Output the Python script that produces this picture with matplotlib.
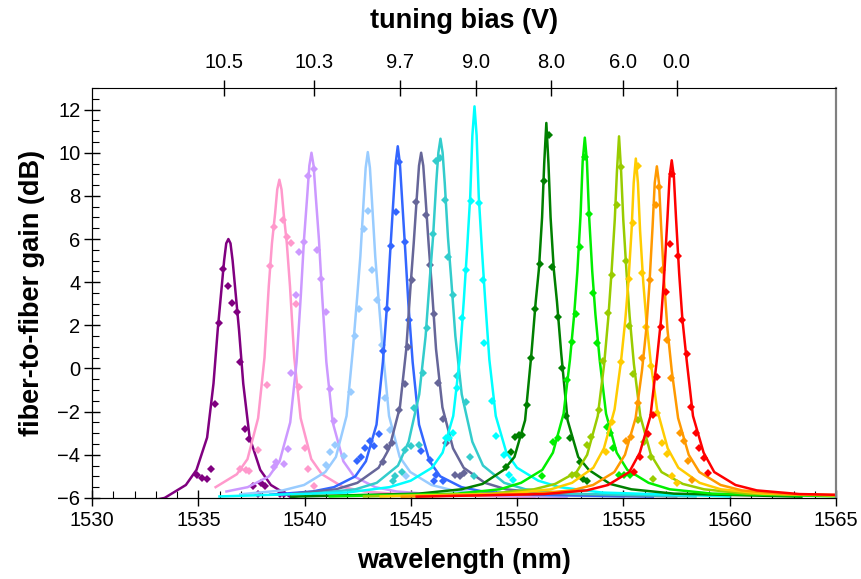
import numpy as np
import matplotlib.pyplot as plt
from matplotlib.ticker import MultipleLocator

plt.rcParams['font.family'] = ['Liberation Sans', 'DejaVu Sans']

COLORS = ["#800080", "#FF99CC", "#CC99FF", "#99CCFF", "#3366FF", "#666699", "#33CCCC",
          "#00FFFF", "#008000", "#00EE00", "#99CC00", "#FFCC00", "#FF9900", "#FF0000"]

# peak wavelength of each fitted curve (nm)
CENTERS = [1536.41, 1538.81, 1540.32, 1542.97, 1544.38, 1545.48, 1546.39,
           1547.99, 1551.37, 1553.18, 1554.79, 1555.58, 1556.57, 1557.27]

# fitted curves, read at these distances from the peak (both sides look alike)
OFFSETS = [0, 0.1, 0.2, 0.35, 0.5, 0.7, 1.0, 1.5, 2.0, 3.0, 4.0, 6.0, 12.0]
FIT_PURPLE = [6.0, 5.8, 5.0, 3.4, 1.8, -0.7, -3.2, -4.7, -5.4, -6.0, -6.2, -6.4, -6.5]
FIT_PINK = [8.75, 8.3, 7.2, 5.8, 3.8, 0.5, -2.3, -4.2, -4.9, -5.5, -5.7, -5.85, -5.95]
FIT_LAVENDER = [10.0, 9.4, 8.0, 6.0, 3.4, 0.3, -2.5, -4.3, -5.0, -5.5, -5.7, -5.85, -5.95]
FIT_LIGHTBLUE = [10.03, 9.3, 7.7, 5.2, 3.3, 0.9, -2.2, -4.1, -4.8, -5.4, -5.65, -5.83, -5.94]
FIT_BLUE = [10.3, 9.5, 7.9, 5.5, 3.0, 0.3, -2.6, -4.3, -5.0, -5.5, -5.7, -5.85, -5.94]
FIT_SLATE = [10.0, 9.4, 8.0, 5.8, 3.8, 0.9, -1.8, -3.7, -4.6, -5.3, -5.6, -5.8, -5.93]
FIT_TEAL = [10.65, 10.0, 8.6, 6.1, 4.2, 1.5, -1.2, -3.4, -4.5, -5.3, -5.6, -5.8, -5.93]
FIT_CYAN = [12.15, 10.8, 8.0, 5.5, 3.2, 0.4, -2.2, -3.9, -4.6, -5.2, -5.5, -5.75, -5.93]
FIT_DKGREEN = [11.38, 9.5, 7.0, 4.6, 3.1, 0.7, -2.4, -4.1, -4.7, -5.35, -5.6, -5.8, -5.94]
FIT_GREEN = [10.7, 9.6, 7.1, 4.5, 2.5, 0.4, -2.1, -3.9, -4.7, -5.3, -5.6, -5.8, -5.93]
FIT_YLGREEN = [10.76, 9.1, 6.9, 4.5, 2.4, 0.2, -2.2, -4.0, -4.8, -5.35, -5.6, -5.8, -5.93]
FIT_GOLD = [9.73, 8.6, 6.4, 4.0, 2.2, 0.3, -1.9, -3.7, -4.6, -5.3, -5.6, -5.8, -5.93]
FIT_ORANGE = [9.37, 8.6, 6.6, 3.9, 1.8, -0.1, -2.3, -4.0, -4.8, -5.4, -5.65, -5.82, -5.94]
FIT_RED = [9.65, 8.9, 7.0, 4.4, 2.3, 0.4, -2.2, -3.9, -4.8, -5.4, -5.65, -5.82, -5.94]
FITS = [FIT_PURPLE, FIT_PINK, FIT_LAVENDER, FIT_LIGHTBLUE, FIT_BLUE, FIT_SLATE, FIT_TEAL,
        FIT_CYAN, FIT_DKGREEN, FIT_GREEN, FIT_YLGREEN, FIT_GOLD, FIT_ORANGE, FIT_RED]
FIT_FROM = 1535.5   # fitted tails along the floor start about here

# measured points (wavelength nm, gain dB)
PTS_PURPLE = [(1536.14, 4.63), (1536.39, 3.83), (1536.59, 3.04), (1536.81, 2.6), (1535.97, 2.1),
              (1536.97, 0.28), (1535.76, -1.65), (1537.19, -2.8), (1537.38, -3.26), (1535.57, -4.67),
              (1534.93, -4.95), (1535.18, -5.09), (1535.4, -5.13), (1537.58, -5.44), (1537.95, -5.29),
              (1538.15, -5.43), (1537.8, -5.81), (1538.83, -5.81), (1539.04, -5.81)]
PTS_PINK = [(1538.56, 6.55), (1539.0, 6.86), (1539.18, 6.1), (1539.36, 5.8), (1538.35, 4.74),
            (1539.57, 2.98), (1538.21, -0.77), (1539.75, -0.85), (1537.82, -3.78), (1540.01, -3.7),
            (1536.97, -4.67), (1537.25, -4.7), (1537.38, -4.76), (1540.17, -4.64), (1540.43, -5.44)]
PTS_LAVENDER = [(1540.16, 8.9), (1540.43, 9.26), (1539.95, 5.87), (1539.75, 5.4), (1540.58, 5.5),
                (1540.79, 4.17), (1539.57, 3.4), (1540.99, 2.6), (1539.34, -0.22), (1541.18, -0.97),
                (1541.4, -2.42), (1539.2, -3.75), (1539.01, -4.44), (1538.67, -4.33), (1538.57, -4.56)]
PTS_LIGHTBLUE = [(1542.97, 7.29), (1542.78, 6.45), (1543.19, 4.58), (1543.38, 3.17), (1542.56, 2.74),
                 (1542.36, 1.5), (1543.63, 1.08), (1542.19, -1.08), (1543.8, -1.36), (1544.0, -2.85),
                 (1541.43, -3.55), (1541.18, -3.86), (1540.98, -4.47), (1541.84, -4.06), (1544.79, -5.0)]
PTS_BLUE = [(1544.43, 9.57), (1544.29, 7.26), (1544.07, 5.67), (1544.7, 5.87), (1543.88, 2.74),
            (1544.89, 2.24), (1543.69, 0.82), (1543.5, -3.04), (1543.25, -3.59), (1543.06, -3.35),
            (1542.86, -3.7), (1542.67, -4.12), (1542.47, -4.27), (1545.45, -3.81), (1545.89, -4.24),
            (1546.1, -5.23), (1546.49, -5.2), (1546.17, -4.94)]
PTS_SLATE = [(1545.26, 7.72), (1545.69, 7.1), (1545.07, 4.12), (1545.9, 4.79), (1546.08, 2.52),
             (1544.87, 1.0), (1544.7, -0.74), (1544.43, -1.93), (1544.1, -3.47), (1543.88, -3.65),
             (1543.69, -4.32), (1546.26, -0.69), (1546.51, -2.36), (1546.67, -3.47), (1547.05, -4.94),
             (1547.3, -5.0), (1547.49, -4.83)]
PTS_TEAL = [(1546.2, 9.62), (1546.39, 9.77), (1546.58, 7.83), (1546.02, 6.25), (1546.73, 5.18),
            (1546.99, 3.4), (1545.76, 1.86), (1545.57, -0.23), (1545.13, -1.85), (1545.37, -3.55),
            (1544.98, -3.59), (1544.74, -3.78), (1544.58, -4.78), (1544.27, -4.98), (1544.16, -5.2),
            (1547.18, -0.35), (1547.57, -1.54), (1547.77, -4.09), (1547.99, -4.98)]
PTS_CYAN = [(1547.81, 7.75), (1548.2, 7.67), (1547.57, 4.58), (1548.38, 4.09), (1547.41, 2.32),
            (1548.46, 1.16), (1547.18, -0.92), (1548.83, -1.49), (1546.63, -3.24), (1546.99, -3.0),
            (1546.8, -3.24), (1548.98, -3.13), (1549.37, -4.02), (1549.61, -4.94), (1549.81, -5.17)]
PTS_DKGREEN = [(1551.49, 10.84), (1551.26, 8.71), (1551.07, 4.83), (1551.65, 4.71), (1550.82, 2.74),
               (1551.91, 2.39), (1550.66, 0.49), (1552.09, 0.04), (1550.44, -1.69), (1552.28, -2.2),
               (1550.24, -3.08), (1552.48, -3.24), (1550.1, -3.1), (1549.89, -3.19), (1549.72, -3.86),
               (1549.45, -4.55), (1552.96, -4.32), (1553.11, -5.13), (1553.27, -5.2)]
PTS_GREEN = [(1553.18, 9.81), (1553.38, 7.15), (1552.96, 5.64), (1553.58, 3.5), (1552.75, 2.52),
             (1552.59, 1.24), (1553.77, 1.16), (1552.36, -0.54), (1551.91, -3.24), (1551.7, -3.39),
             (1551.18, -5.0), (1554.21, -2.7), (1554.37, -3.0), (1554.52, -3.7), (1554.79, -4.94),
             (1555.02, -4.94), (1555.3, -4.94)]
PTS_YLGREEN = [(1554.87, 9.35), (1554.68, 7.6), (1555.1, 4.99), (1554.48, 4.32), (1555.26, 1.96),
               (1554.27, 2.55), (1555.46, -0.26), (1554.05, 0.36), (1553.85, -1.93), (1555.68, -2.39),
               (1553.46, -3.17), (1553.3, -3.55), (1555.97, -3.39), (1556.28, -4.09), (1552.83, -4.94),
               (1552.6, -4.94), (1556.41, -5.13)]
PTS_GOLD = [(1555.68, 9.37), (1555.45, 6.75), (1555.86, 4.41), (1555.26, 4.13), (1556.08, 1.93),
            (1554.87, 0.31), (1556.28, 0.11), (1556.57, -2.08), (1554.48, -2.47), (1556.83, -3.44),
            (1554.16, -3.86), (1557.07, -3.96), (1557.51, -5.29), (1557.3, -5.0)]
PTS_ORANGE = [(1556.68, 8.41), (1556.52, 7.56), (1556.83, 4.58), (1556.25, 4.12), (1557.07, 1.31),
              (1555.86, 0.47), (1557.25, -0.46), (1555.68, -1.62), (1557.65, -3.0), (1555.34, -3.16),
              (1557.85, -3.35), (1555.11, -3.35), (1558.04, -4.27), (1558.24, -5.17)]
PTS_RED = [(1557.3, 9.03), (1557.19, 5.76), (1557.57, 5.2), (1557.0, 3.55), (1557.77, 2.24),
           (1556.75, 1.93), (1557.98, 0.67), (1556.57, -0.38), (1558.17, -1.77), (1556.37, -2.16),
           (1558.4, -3.0), (1556.13, -3.04), (1558.56, -3.67), (1555.78, -4.09), (1558.79, -4.13),
           (1555.5, -4.78), (1558.98, -4.83)]
POINTS = [PTS_PURPLE, PTS_PINK, PTS_LAVENDER, PTS_LIGHTBLUE, PTS_BLUE, PTS_SLATE, PTS_TEAL,
          PTS_CYAN, PTS_DKGREEN, PTS_GREEN, PTS_YLGREEN, PTS_GOLD, PTS_ORANGE, PTS_RED]

# tuning bias axis on top
BIAS_NM = [1536.2, 1540.46, 1544.5, 1548.06, 1551.6, 1555.0, 1557.5]
BIAS_LABELS = ["10.5", "10.3", "9.7", "9.0", "8.0", "6.0", "0.0"]

fig = plt.figure(figsize=(8.61, 5.79), dpi=100)
ax = fig.add_axes([0.107, 0.140, 0.864, 0.708])

offs = np.array(OFFSETS)
for center, fit, pts, color in zip(CENTERS, FITS, POINTS, COLORS):
    fit = np.array(fit)
    x = np.concatenate([center - offs[::-1], center + offs[1:]])
    y = np.concatenate([fit[::-1], fit[1:]])
    # drop the near-floor tail to the left of where the fits begin
    keep = (x >= FIT_FROM) | (y > -5.5) | (y <= -6.0)
    ax.plot(x[keep], y[keep], color=color, lw=1.8)
    px, py = zip(*pts)
    ax.plot(px, py, "D", color=color, ms=4.5, mew=0)

ax.set_xlim(1530, 1565)
ax.set_ylim(-6, 13)
ax.xaxis.set_major_locator(MultipleLocator(5))
ax.xaxis.set_minor_locator(MultipleLocator(1))
ax.yaxis.set_major_locator(MultipleLocator(2))
ax.yaxis.set_minor_locator(MultipleLocator(0.5))
ax.tick_params(which="major", direction="inout", length=11, width=1, labelsize=14.5)
ax.tick_params(which="minor", direction="in", length=5, width=0.8)
ax.tick_params(axis="x", which="major", pad=4)
ax.tick_params(axis="y", which="major", pad=3)
ax.spines["right"].set_color("#808080")
ax.spines["right"].set_linewidth(1.5)
ax.spines["top"].set_visible(False)
ax.set_xlabel("wavelength (nm)", fontsize=19.5, fontweight="bold", labelpad=13)
ax.set_ylabel("fiber-to-fiber gain (dB)", fontsize=19.5, fontweight="bold", labelpad=9)

top = ax.twiny()
top.set_xlim(ax.get_xlim())
top.set_xticks(BIAS_NM)
top.set_xticklabels(BIAS_LABELS)
top.tick_params(which="major", direction="inout", length=11, width=1, labelsize=14.5, pad=6)
top.spines["right"].set_color("#808080")
top.spines["right"].set_linewidth(1.5)
top.set_xlabel("tuning bias (V)", fontsize=19.5, fontweight="bold", labelpad=18)

fig.savefig("out.png", dpi=100)
